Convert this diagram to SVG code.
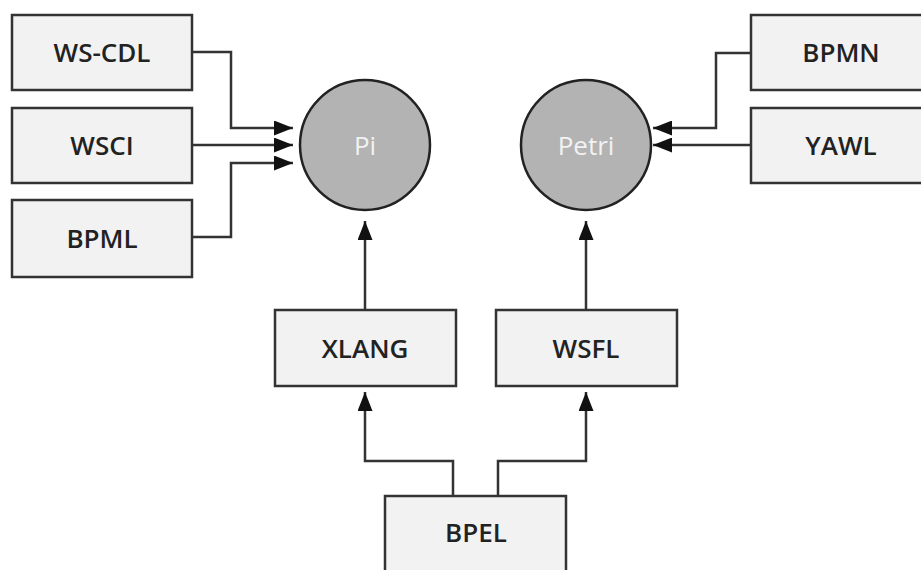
<svg xmlns="http://www.w3.org/2000/svg" width="921" height="570" viewBox="0 0 921 570">
<defs>
<marker id="ah" markerUnits="userSpaceOnUse" markerWidth="19" markerHeight="15" refX="19" refY="7.5" orient="auto">
<path d="M0,0 L19,7.5 L0,15 Z" fill="#111"/>
</marker>
<style>
.box{fill:#f2f2f2;stroke:#333;stroke-width:2.5}
.lbl{font-family:"Open Sans","DejaVu Sans",sans-serif;font-size:26px;font-weight:600;fill:#222;text-anchor:middle;dominant-baseline:central}
.cir{fill:#b3b3b3;stroke:#222;stroke-width:2.5}
.clbl{font-family:"Open Sans","DejaVu Sans",sans-serif;font-size:26px;fill:#f2f2f2;text-anchor:middle;dominant-baseline:central}
.con{fill:none;stroke:#333;stroke-width:2.5;marker-end:url(#ah)}
</style>
</defs>
<rect width="921" height="570" fill="#fff"/>
<g id="connectors">
<path class="con" d="M192,52 H231 V128 H293"/>
<path class="con" d="M192,145 H293"/>
<path class="con" d="M192,237 H231 V163 H293"/>
<path class="con" d="M751,53 H716 V128 H653"/>
<path class="con" d="M751,145 H653"/>
<path class="con" d="M365,310 V221"/>
<path class="con" d="M586,310 V221"/>
<path class="con" d="M453,496 V461 H365 V392"/>
<path class="con" d="M498,496 V461 H586 V392"/>
</g>
<g id="ws-cdl"><rect class="box" x="12" y="15" width="180" height="75"/><text class="lbl" x="102" y="52">WS-CDL</text></g>
<g id="wsci"><rect class="box" x="12" y="108" width="180" height="75"/><text class="lbl" x="102" y="145">WSCI</text></g>
<g id="bpml"><rect class="box" x="12" y="200" width="180" height="77"/><text class="lbl" x="102" y="238">BPML</text></g>
<g id="pi"><circle class="cir" cx="365" cy="145" r="65"/><text class="clbl" x="365" y="145">Pi</text></g>
<g id="petri"><circle class="cir" cx="586" cy="145" r="65"/><text class="clbl" x="586" y="145">Petri</text></g>
<g id="bpmn"><rect class="box" x="751" y="15" width="180" height="75"/><text class="lbl" x="841" y="52">BPMN</text></g>
<g id="yawl"><rect class="box" x="751" y="108" width="180" height="75"/><text class="lbl" x="841" y="145">YAWL</text></g>
<g id="xlang"><rect class="box" x="275" y="310" width="181" height="76"/><text class="lbl" x="365" y="348">XLANG</text></g>
<g id="wsfl"><rect class="box" x="496" y="310" width="181" height="76"/><text class="lbl" x="586" y="348">WSFL</text></g>
<g id="bpel"><rect class="box" x="385" y="496" width="181" height="80"/><text class="lbl" x="476" y="532">BPEL</text></g>
</svg>
